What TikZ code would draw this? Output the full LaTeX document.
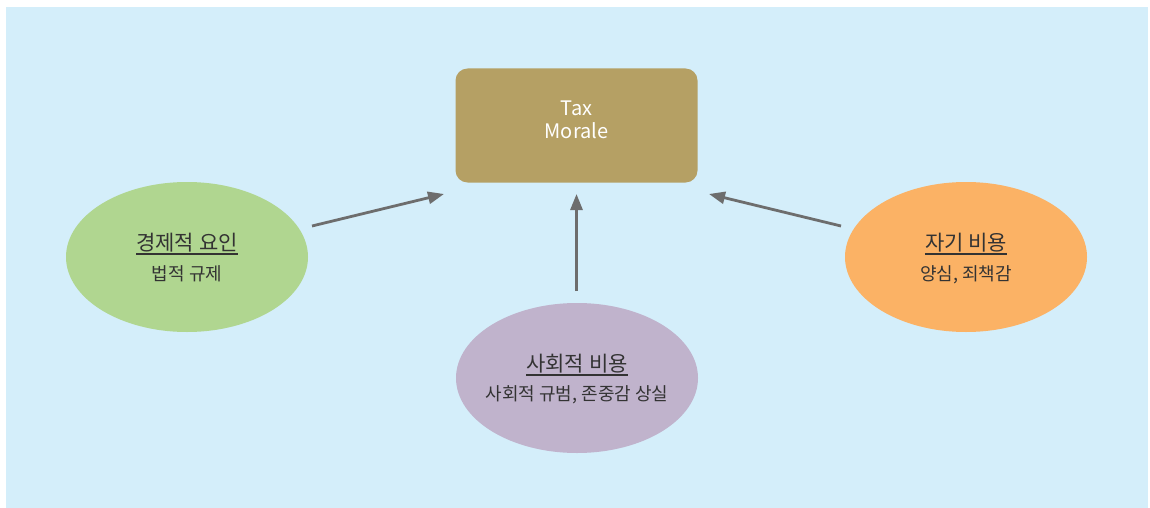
\documentclass[tikz,border=0pt]{standalone}
\usepackage{fontspec}
\setmainfont{Noto Sans CJK KR}
\usetikzlibrary{arrows.meta,shapes.geometric}
\definecolor{bgblue}{HTML}{D4EEFA}
\definecolor{taxgold}{HTML}{B5A064}
\definecolor{ovgreen}{HTML}{B0D690}
\definecolor{ovorange}{HTML}{FBB265}
\definecolor{ovpurple}{HTML}{C0B3CC}
\definecolor{txtdark}{HTML}{333333}
\definecolor{arrowgrey}{HTML}{6D6D6D}
\tikzset{
  taxbox/.style={draw=none, fill=taxgold, rounded corners=12pt, minimum width=242pt, minimum height=114pt, inner sep=0pt},
  taxtext/.style={text=white, font=\fontsize{20}{23}\selectfont, align=center, inner sep=0pt},
  oval/.style={ellipse, draw=none, minimum width=242pt, minimum height=150pt, inner sep=0pt},
  ovtitle/.style={text=txtdark, font=\fontsize{21}{24}\selectfont, inner sep=0pt, anchor=base},
  ovsub/.style={text=txtdark, font=\fontsize{18}{20}\selectfont, inner sep=0pt, anchor=base},
  uline/.style={draw=txtdark, line width=1.2pt},
  conn/.style={draw=arrowgrey, line width=2.8pt, -{Triangle[length=16pt,width=12pt]}}
}
\begin{document}
\begin{tikzpicture}[x=1pt,y=-1pt]
\useasboundingbox (0,0) rectangle (1150,508);
\fill[bgblue] (6,7) rectangle (1148,508);

\node[taxbox] (tax) at (576.5,125.5) {};
\node[taxtext] (taxlabel) at (576.5,119.5) {Tax\\Morale};

\node[oval, fill=ovgreen] (econ) at (187,257) {};
\node[ovtitle] (econt) at (187,250.5) {경제적 요인};
\node[ovsub] (econs) at (187,280.5) {법적 규제};
\draw[uline] ([yshift=-3.5pt]econt.base west) -- ([yshift=-3.5pt]econt.base east);

\node[oval, fill=ovorange] (self) at (966,257) {};
\node[ovtitle] (selft) at (966,250.5) {자기 비용};
\node[ovsub] (selfs) at (966,280.5) {양심, 죄책감};
\draw[uline] ([yshift=-3.5pt]selft.base west) -- ([yshift=-3.5pt]selft.base east);

\node[oval, fill=ovpurple] (soc) at (577,378) {};
\node[ovtitle] (soct) at (577,371) {사회적 비용};
\node[ovsub] (socs) at (577,400.5) {사회적 규범, 존중감 상실};
\draw[uline] ([yshift=-4pt]soct.base west) -- ([yshift=-4pt]soct.base east);

\coordinate (a1s) at (312,226);
\coordinate (a1e) at (444,194);
\coordinate (a2s) at (576.5,291);
\coordinate (a2e) at (576.5,194);
\coordinate (a3s) at (841,226);
\coordinate (a3e) at (709,194);
\draw[conn] (a1s) -- (a1e);
\draw[conn] (a2s) -- (a2e);
\draw[conn] (a3s) -- (a3e);
\end{tikzpicture}
\end{document}
